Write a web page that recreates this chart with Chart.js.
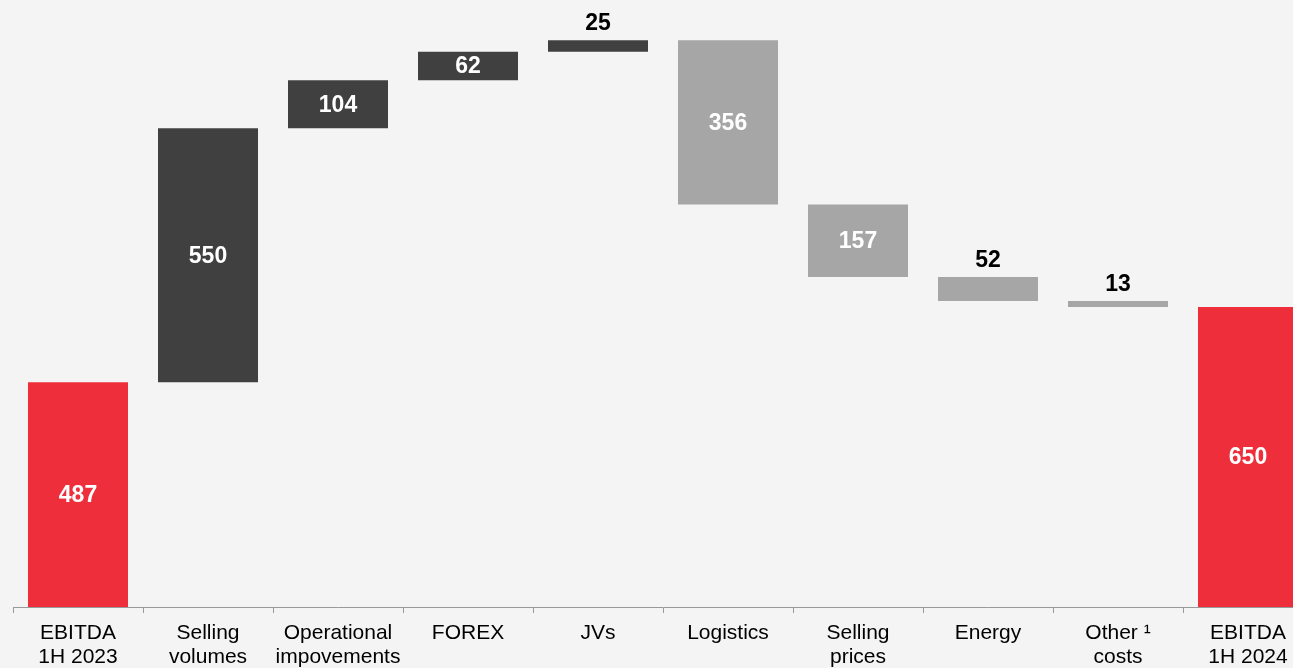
<!DOCTYPE html>
<html>
<head>
<meta charset="utf-8">
<script src="https://cdn.jsdelivr.net/npm/chart.js@4"></script>
<style>
  html, body { margin: 0; padding: 0; background: #f4f4f4; overflow: hidden; }
  #wrap { width: 1313px; height: 668px; position: relative; }
</style>
</head>
<body>
<div id="wrap"><canvas id="c"></canvas></div>
<script>
const categories = [
  ["EBITDA", "1H 2023"],
  ["Selling", "volumes"],
  ["Operational", "impovements"],
  "FOREX",
  "JVs",
  "Logistics",
  ["Selling", "prices"],
  "Energy",
  ["Other \u00b9", "costs"],
  ["EBITDA", "1H 2024"]
];
// kind: total / up / down
const kinds  = ["total", "up", "up", "up", "up", "down", "down", "down", "down", "total"];
const values = [487, 550, 104, 62, 25, 356, 157, 52, 13, 650];
const colorsByKind = { total: "#ee2f3b", up: "#404040", down: "#a6a6a6" };
// label placement: inside or above the bar
const labelInside = [true, true, true, true, false, true, true, false, false, true];

// build floating ranges from the values
const ranges = [];
let running = 0;
values.forEach((v, i) => {
  if (kinds[i] === "total") { ranges.push([0, v]); running = v; }
  else if (kinds[i] === "up") { ranges.push([running, running + v]); running += v; }
  else { ranges.push([running - v, running]); running -= v; }
});

const labelPlugin = {
  id: "wfLabels",
  afterDatasetsDraw(chart) {
    const ctx = chart.ctx;
    const meta = chart.getDatasetMeta(0);
    ctx.save();
    ctx.font = "bold 23px 'Liberation Sans', Arial, sans-serif";
    ctx.textAlign = "center";
    meta.data.forEach((bar, i) => {
      const top = Math.min(bar.y, bar.base);
      const bottom = Math.max(bar.y, bar.base);
      if (labelInside[i]) {
        ctx.fillStyle = "#ffffff";
        ctx.textBaseline = "middle";
        ctx.fillText(String(values[i]), bar.x, (top + bottom) / 2 + 1);
      } else {
        ctx.fillStyle = "#000000";
        ctx.textBaseline = "alphabetic";
        ctx.fillText(String(values[i]), bar.x, top - 10);
      }
    });
    ctx.restore();
  }
};

new Chart(document.getElementById("c"), {
  type: "bar",
  data: {
    labels: categories,
    datasets: [{
      data: ranges,
      backgroundColor: kinds.map(k => colorsByKind[k]),
      borderWidth: 0,
      barPercentage: 1,
      categoryPercentage: 100 / 130
    }]
  },
  options: {
    responsive: true,
    maintainAspectRatio: false,
    animation: false,
    layout: { padding: { left: 13, right: 0, top: 0, bottom: 0 } },
    plugins: { legend: { display: false }, tooltip: { enabled: false } },
    scales: {
      x: {
        grid: { display: true, drawOnChartArea: false, drawTicks: true, tickLength: 6, color: "#999999", offset: true },
        border: { display: true, color: "#999999", width: 1 },
        ticks: {
          color: "#000000",
          font: { family: "'Liberation Sans', Arial, sans-serif", size: 21, lineHeight: 1.15 },
          padding: 8,
          maxRotation: 0,
          autoSkip: false
        },
        afterFit(scale) { scale.height = 61; }
      },
      y: {
        display: false,
        min: 0,
        max: 1315
      }
    }
  },
  plugins: [labelPlugin]
});
</script>
</body>
</html>
